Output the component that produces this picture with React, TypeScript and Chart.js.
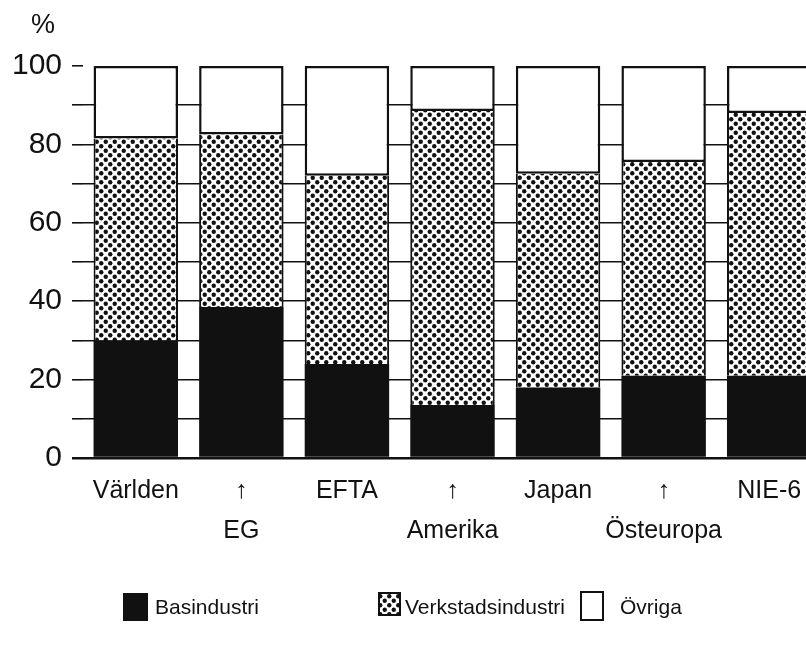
import React, { useEffect, useRef } from 'react';
import { Chart, registerables } from 'chart.js';

Chart.register(...registerables);

// ---- data ----
const categories: string[][] = [
  ['Världen'],
  ['↑', 'EG'],
  ['EFTA'],
  ['↑', 'Amerika'],
  ['Japan'],
  ['↑', 'Östeuropa'],
  ['NIE-6'],
];
const basindustri = [30, 38.5, 24, 13.5, 18, 21, 21];
const verkstadsindustri = [51.5, 44, 48, 75, 54.5, 54.5, 67];
const ovriga = [18.5, 17.5, 28, 11.5, 27.5, 24.5, 12];
const seriesNames = ['Basindustri', 'Verkstadsindustri', 'Övriga'];
const yTickLabels = [0, 20, 40, 60, 80, 100];
const unitLabel = '%';

const INK = '#111111';

function makeDotPattern(ctx: CanvasRenderingContext2D): CanvasPattern | string {
  const c = document.createElement('canvas');
  c.width = 9;
  c.height = 9;
  const p = c.getContext('2d');
  if (!p) return '#888';
  p.fillStyle = '#ffffff';
  p.fillRect(0, 0, 9, 9);
  p.fillStyle = INK;
  [[2.25, 2.25], [6.75, 6.75]].forEach(([x, y]) => {
    p.beginPath();
    p.arc(x, y, 2.2, 0, Math.PI * 2);
    p.fill();
  });
  return ctx.createPattern(c, 'repeat') || '#888';
}

const overlayPlugin = {
  id: 'overlay',
  afterDraw(chart: any, _args: any, opts: any) {
    const ctx: CanvasRenderingContext2D = chart.ctx;
    ctx.save();
    ctx.fillStyle = INK;
    ctx.font = '27px "Liberation Sans", Arial, sans-serif';
    ctx.textAlign = 'center';
    ctx.textBaseline = 'middle';
    ctx.fillText(opts.unit, opts.unitX, opts.unitY);

    chart.data.datasets.forEach((ds: any, i: number) => {
      const it = opts.items[i];
      ctx.fillStyle = ds.backgroundColor;
      ctx.fillRect(it.x, it.y, it.w, it.h);
      ctx.lineWidth = 2;
      ctx.strokeStyle = INK;
      ctx.strokeRect(it.x, it.y, it.w, it.h);
      ctx.fillStyle = INK;
      ctx.font = '21px "Liberation Sans", Arial, sans-serif';
      ctx.textAlign = 'left';
      ctx.textBaseline = 'middle';
      ctx.fillText(ds.label, it.tx, opts.textY);
    });
    ctx.restore();
  },
};

export default function App() {
  const ref = useRef<HTMLCanvasElement | null>(null);

  useEffect(() => {
    const canvas = ref.current;
    if (!canvas) return;
    const ctx = canvas.getContext('2d');
    if (!ctx) return;
    const pattern = makeDotPattern(ctx);

    const chart = new Chart(canvas, {
      type: 'bar',
      data: {
        labels: categories,
        datasets: [
          {
            label: seriesNames[0],
            data: basindustri,
            backgroundColor: INK,
            borderColor: INK,
            borderWidth: 0,
            borderSkipped: false,
          },
          {
            label: seriesNames[1],
            data: verkstadsindustri,
            backgroundColor: pattern as any,
            borderColor: INK,
            borderWidth: { left: 2, right: 2, top: 0, bottom: 0 },
            borderSkipped: false,
          },
          {
            label: seriesNames[2],
            data: ovriga,
            backgroundColor: '#ffffff',
            borderColor: INK,
            borderWidth: 2.5,
            borderSkipped: false,
          },
        ],
      },
      options: {
        animation: false,
        responsive: false,
        devicePixelRatio: 1,
        layout: { padding: { left: 0, top: 66, right: 0, bottom: 0 } },
        datasets: {
          bar: { barPercentage: 0.8, categoryPercentage: 1 },
        },
        plugins: {
          legend: { display: false },
          tooltip: { enabled: false },
          overlay: {
            unit: unitLabel,
            unitX: 43,
            unitY: 26,
            textY: 608,
            items: [
              { x: 124, y: 594, w: 23, h: 26, tx: 155 },
              { x: 379, y: 593, w: 21, h: 22, tx: 405 },
              { x: 581, y: 592, w: 22, h: 28, tx: 620 },
            ],
          },
        } as any,
        scales: {
          x: {
            stacked: true,
            offset: true,
            grid: { display: false, drawTicks: false },
            border: { display: false },
            ticks: {
              color: INK,
              padding: 13,
              maxRotation: 0,
              autoSkip: false,
              font: { family: '"Liberation Sans", Arial, sans-serif', size: 25, lineHeight: 40 / 25 },
            },
            afterFit: (s: any) => {
              s.height = 645 - 458;
            },
          },
          y: {
            stacked: true,
            min: 0,
            max: 100,
            border: { display: false },
            grid: {
              color: (c: any) => (c.tick && c.tick.value === 100 ? 'rgba(0,0,0,0)' : INK),
              tickColor: INK,
              lineWidth: (c: any) => (c.tick && c.tick.value === 0 ? 2.5 : 1.6),
              drawTicks: true,
              tickLength: 11,
            },
            ticks: {
              stepSize: 10,
              color: INK,
              padding: 10,
              font: { family: '"Liberation Sans", Arial, sans-serif', size: 30 },
              callback: (v: any) => (yTickLabels.includes(Number(v)) ? String(v) : ''),
            },
            afterFit: (s: any) => {
              s.width = 83;
            },
          },
        },
      },
      plugins: [overlayPlugin],
    });

    return () => chart.destroy();
  }, []);

  return (
    <div
      style={{
        position: 'fixed',
        left: 0,
        top: 0,
        width: 806,
        height: 645,
        overflow: 'hidden',
        background: '#ffffff',
      }}
    >
      <canvas ref={ref} width={822} height={645} style={{ display: 'block' }} />
    </div>
  );
}
